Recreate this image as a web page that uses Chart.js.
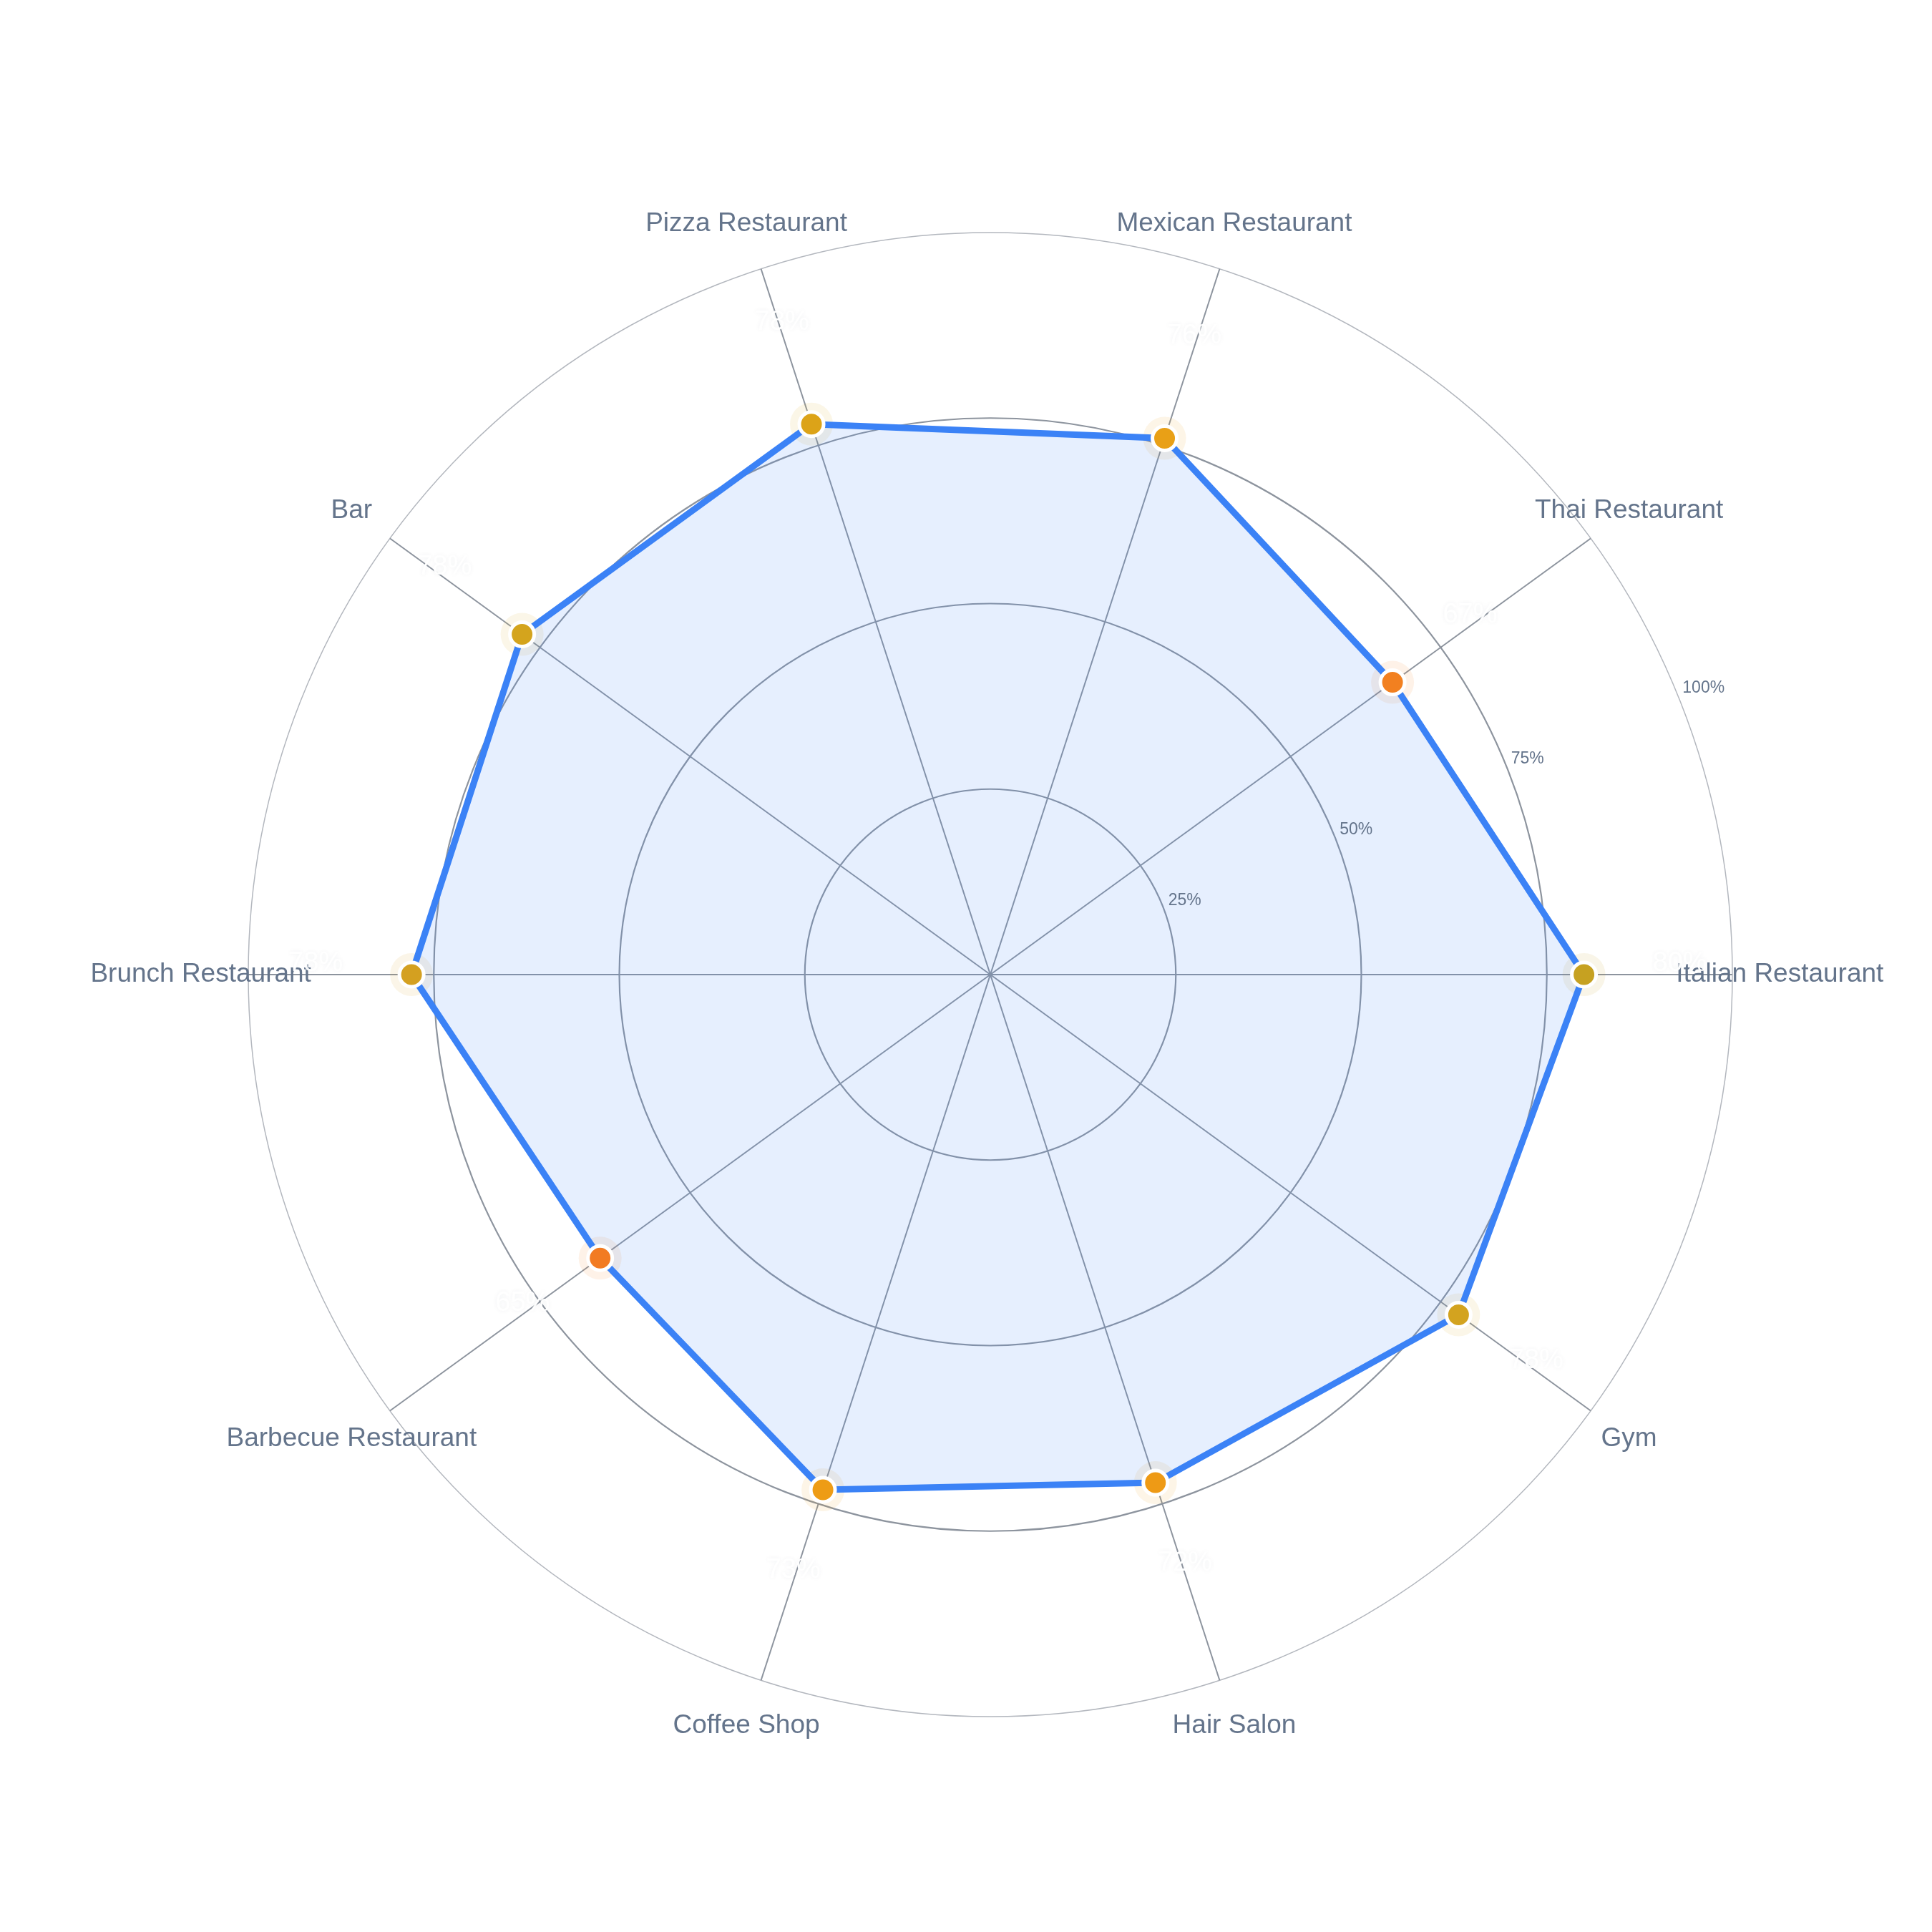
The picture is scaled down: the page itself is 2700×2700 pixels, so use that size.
<!DOCTYPE html>
<html><head><meta charset="utf-8">
<script src="https://cdn.jsdelivr.net/npm/chart.js@4.4.1/dist/chart.umd.min.js"></script>
<style>html,body{margin:0;padding:0;background:#fff;}canvas{display:block;}</style>
</head><body>
<canvas id="c" width="2700" height="2700"></canvas>
<script>
// Data (counter-clockwise from the right, as in the reference)
const categories = ["Italian Restaurant","Thai Restaurant","Mexican Restaurant","Pizza Restaurant","Bar","Brunch Restaurant","Barbecue Restaurant","Coffee Shop","Hair Salon","Gym"];
const values = [80, 67, 76, 78, 78, 78, 65, 73, 72, 78];
const pointColors = ["#c6a121","#f28020","#e9a016","#dca318","#d4a41d","#d4a020","#f27b22","#ee9c15","#ee9a15","#d3a31f"];
const tickValues = [25, 50, 75, 100];
const tickLabels = ["25%", "50%", "75%", "100%"];

// Chart.js runs clockwise; reorder so the drawing runs counter-clockwise
const order = [0, 9, 8, 7, 6, 5, 4, 3, 2, 1];
const labels = order.map(i => categories[i]);
const data = order.map(i => values[i]);
const colors = order.map(i => pointColors[i]);

function withAlpha(hex, a) {
  const n = parseInt(hex.slice(1), 16);
  return `rgba(${(n >> 16) & 255},${(n >> 8) & 255},${n & 255},${a})`;
}

const FONT = '"Liberation Sans", Arial, Helvetica, sans-serif';

const overlay = {
  id: 'overlay',
  afterDatasetsDraw(chart) {
    const s = chart.scales.r;
    const ctx = chart.ctx;
    ctx.save();
    // tick labels along 22.5 degrees
    const a = -22.5 * Math.PI / 180;
    ctx.font = `23px ${FONT}`;
    ctx.fillStyle = '#64748b';
    ctx.textAlign = 'left';
    ctx.textBaseline = 'middle';
    tickValues.forEach((v, i) => {
      const r = s.getDistanceFromCenterForValue(v) + 10;
      ctx.fillText(tickLabels[i], s.xCenter + r * Math.cos(a), s.yCenter + r * Math.sin(a));
    });
    // category labels, centred
    ctx.font = `37px ${FONT}`;
    ctx.textAlign = 'center';
    labels.forEach((l, i) => {
      const p = s.getPointPosition(i, s.drawingArea * 1.064);
      ctx.fillText(l, p.x, p.y);
    });
    // value labels (white with faint shadow)
    ctx.font = `38px ${FONT}`;
    ctx.shadowColor = 'rgba(30,50,80,0.07)';
    ctx.shadowBlur = 6;
    ctx.fillStyle = 'rgba(255,255,255,0.97)';
    data.forEach((v, i) => {
      const p = s.getPointPosition(i, s.getDistanceFromCenterForValue(v) + 134);
      ctx.fillText(v + '%', p.x, p.y - 15);
    });
    ctx.restore();
  }
};

new Chart(document.getElementById('c'), {
  type: 'radar',
  data: {
    labels: labels,
    datasets: [{
      data: data,
      borderColor: '#3b82f6',
      borderWidth: 9,
      backgroundColor: 'rgba(59,130,246,0.13)',
      fill: true,
      tension: 0,
      pointRadius: 17,
      pointBorderWidth: 5,
      pointBorderColor: '#ffffff',
      pointBackgroundColor: colors,
      order: 0
    }, {
      data: data,
      showLine: false,
      fill: false,
      borderWidth: 0,
      pointRadius: 30,
      pointBorderWidth: 0,
      pointBackgroundColor: colors.map(c => withAlpha(c, 0.1)),
      order: 1
    }]
  },
  options: {
    responsive: false,
    animation: false,
    devicePixelRatio: 1,
    layout: { padding: { left: 347, right: 279, top: 325, bottom: 301 } },
    plugins: { legend: { display: false }, tooltip: { enabled: false } },
    scales: {
      r: {
        min: 0, max: 100, startAngle: 90,
        ticks: { display: false, stepSize: 25 },
        pointLabels: { display: false },
        grid: {
          circular: true,
          color: c => (c.tick && c.tick.value === 100) ? '#b3b7be' : '#8d949e',
          lineWidth: c => (c.tick && c.tick.value === 100) ? 1.5 : 2.2
        },
        angleLines: { color: '#8d949e', lineWidth: 2 }
      }
    }
  },
  plugins: [overlay]
});
</script>
</body></html>
